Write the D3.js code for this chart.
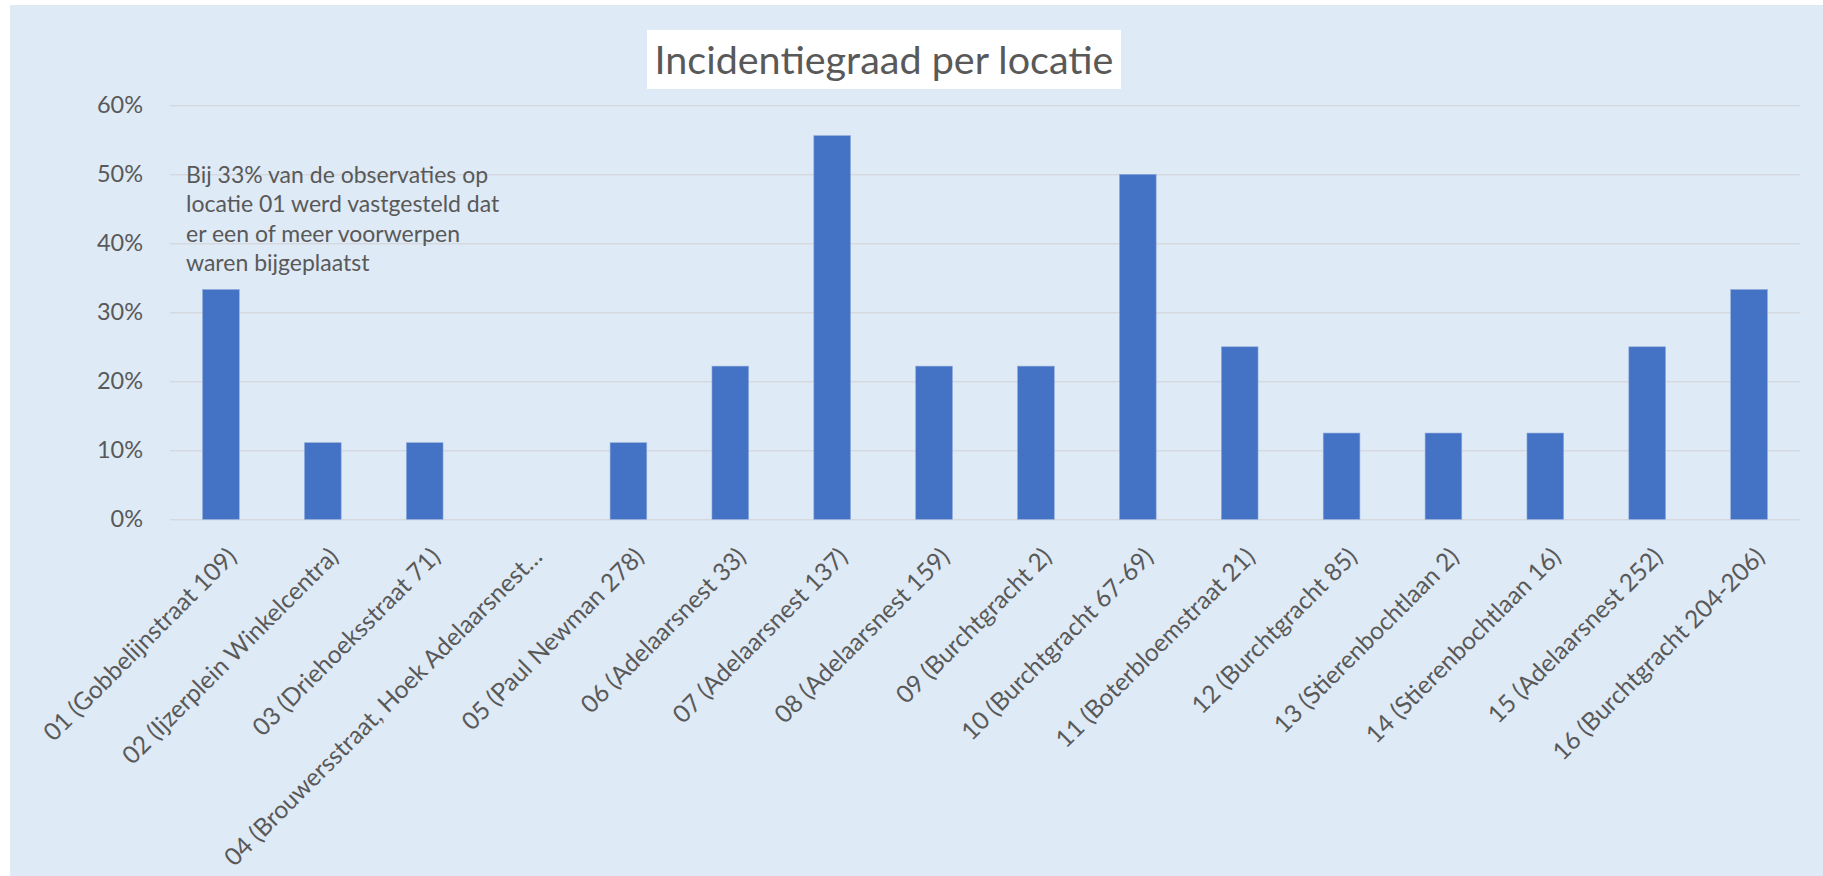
<!DOCTYPE html>
<html>
<head>
<meta charset="utf-8">
<script src="https://cdn.jsdelivr.net/npm/d3@7"></script>
<style>
  body { margin: 0; background: #ffffff; }
  text { font-family: Lato, "Open Sans", sans-serif; }
</style>
</head>
<body>
<svg id="chart" width="1823" height="876"></svg>
<script>
// categories as shown on the x axis (04 is cut off in the original)
const locations = [
  '01 (Gobbelijnstraat 109)',
  '02 (Ijzerplein Winkelcentra)',
  '03 (Driehoeksstraat 71)',
  '04 (Brouwersstraat, Hoek Adelaarsnest\u2026',
  '05 (Paul Newman 278)',
  '06 (Adelaarsnest 33)',
  '07 (Adelaarsnest 137)',
  '08 (Adelaarsnest 159)',
  '09 (Burchtgracht 2)',
  '10 (Burchtgracht 67-69)',
  '11 (Boterbloemstraat 21)',
  '12 (Burchtgracht 85)',
  '13 (Stierenbochtlaan 2)',
  '14 (Stierenbochtlaan 16)',
  '15 (Adelaarsnest 252)',
  '16 (Burchtgracht 204-206)'
];
const rates = [0.333, 0.111, 0.111, 0, 0.111, 0.222, 0.556, 0.222, 0.222, 0.5, 0.25, 0.125, 0.125, 0.125, 0.25, 0.333];
const yTicks = [0, 0.1, 0.2, 0.3, 0.4, 0.5, 0.6];
const chartTitle = 'Incidentiegraad per locatie';
const noteLines = [
  'Bij 33% van de observaties op',
  'locatie 01 werd vastgesteld dat',
  'er een of meer voorwerpen',
  'waren bijgeplaatst'
];

const svg = d3.select('#chart');
const width = 1823;
const height = 876;
const margin = { top: 105.3, right: 23, bottom: 356.7, left: 170 };
const textColor = '#595959';
const gridColor = '#d5d9df';

// chart area background
svg.append('rect')
  .attr('x', 10).attr('y', 5)
  .attr('width', width - 10).attr('height', height - 5)
  .attr('fill', '#deeaf6');

const x = d3.scaleBand()
  .domain(locations)
  .range([margin.left, width - margin.right])
  .paddingInner(0.64)
  .paddingOuter(0.32);

const y = d3.scaleLinear()
  .domain([0, 0.6])
  .range([height - margin.bottom, margin.top]);

// gridlines
svg.append('g')
  .attr('transform', `translate(${margin.left},0)`)
  .call(d3.axisLeft(y).tickValues(yTicks).tickSize(-(width - margin.right - margin.left)).tickFormat(''))
  .call(g => g.select('.domain').remove())
  .call(g => g.selectAll('line').attr('stroke', gridColor).attr('stroke-width', 1.6));

// y axis labels
svg.append('g')
  .attr('transform', `translate(${margin.left},0)`)
  .call(d3.axisLeft(y).tickValues(yTicks).tickSize(0).tickPadding(27).tickFormat(d3.format('.0%')))
  .call(g => g.select('.domain').remove())
  .call(g => g.selectAll('text')
    .attr('fill', textColor)
    .style('font-size', '23.5px'));

// bars
svg.append('g')
  .selectAll('rect')
  .data(rates)
  .join('rect')
  .attr('x', (d, i) => x(locations[i]))
  .attr('y', d => y(d))
  .attr('width', x.bandwidth())
  .attr('height', d => y(0) - y(d))
  .attr('fill', '#4472c4')
  .attr('stroke', '#8eaadb')
  .attr('stroke-width', 0.6);

// x axis labels, rotated -45
svg.append('g')
  .attr('transform', `translate(0,${y(0)})`)
  .call(d3.axisBottom(x).tickSize(0).tickPadding(0))
  .call(g => g.select('.domain').remove())
  .call(g => g.selectAll('text')
    .attr('fill', textColor)
    .style('font-size', '24.5px')
    .attr('text-anchor', 'end')
    .attr('dy', '0.35em')
    .attr('transform', 'translate(11,33) rotate(-45)'));

// title box
const titleX = 884;
const titleG = svg.append('g');
titleG.append('rect')
  .attr('x', 647).attr('y', 30)
  .attr('width', 474).attr('height', 59)
  .attr('fill', '#ffffff');
titleG.append('text')
  .attr('x', titleX).attr('y', 74)
  .attr('text-anchor', 'middle')
  .attr('fill', textColor)
  .style('font-size', '39.5px')
  .text(chartTitle);

// annotation
svg.append('text')
  .attr('x', 186).attr('y', 183)
  .attr('fill', textColor)
  .style('font-size', '23px')
  .selectAll('tspan')
  .data(noteLines)
  .join('tspan')
  .attr('x', 186)
  .attr('dy', (d, i) => i === 0 ? 0 : 29.4)
  .text(d => d);
</script>
</body>
</html>
